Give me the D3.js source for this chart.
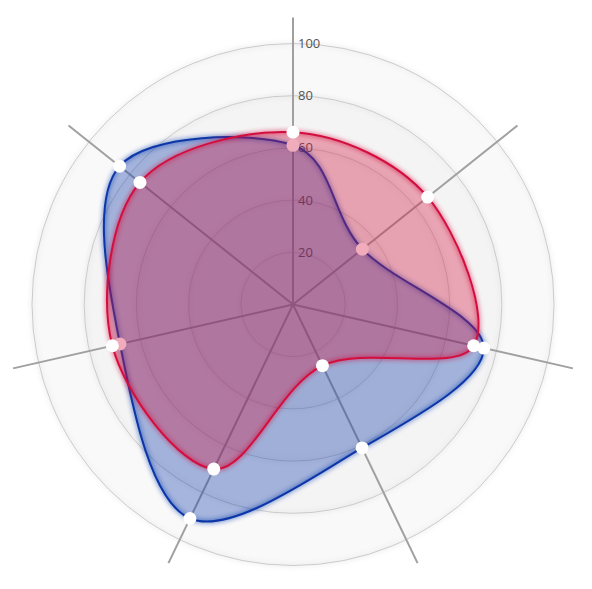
<!DOCTYPE html>
<html>
<head>
<meta charset="utf-8">
<script src="https://cdn.jsdelivr.net/npm/d3@7"></script>
<style>
  html, body { margin: 0; padding: 0; background: #fff; }
  svg { display: block; font-family: "Open Sans", "DejaVu Sans", sans-serif; }
</style>
</head>
<body>
<div class="container"></div>
<script>
// tick levels shown on the vertical axis
const levels = [20, 40, 60, 80, 100];
// seven axes, values
const seriesBlue = [61, 34, 75, 61, 91, 68, 85];
const seriesRed = [66, 66, 71, 26, 70, 71, 75];

const width = 592;
const height = 589;
const cx = 293;
const cy = 304.5;
const radius = 261;
const maxValue = 100;
const slice = (Math.PI * 2) / seriesBlue.length;

const svg = d3.select(".container")
    .append("svg")
    .attr("width", width)
    .attr("height", height);

// soft glow used by grid circles and blob outlines
const defs = svg.append("defs");
const glow = defs.append("filter").attr("id", "glow")
    .attr("x", "-20%").attr("y", "-20%").attr("width", "140%").attr("height", "140%");
glow.append("feGaussianBlur").attr("stdDeviation", 2.5).attr("result", "coloredBlur");
const merge = glow.append("feMerge");
merge.append("feMergeNode").attr("in", "coloredBlur");
merge.append("feMergeNode").attr("in", "SourceGraphic");

const g = svg.append("g").attr("transform", `translate(${cx}, ${cy})`);

const r = d3.scaleLinear().domain([0, maxValue]).range([0, radius]);

// grid circles, biggest first so the fills stack towards the centre
const grid = g.append("g").attr("class", "grid");
grid.selectAll("circle")
    .data(levels.slice().reverse())
    .enter()
    .append("circle")
    .attr("r", (d) => r(d))
    .attr("fill", "#CDCDCD")
    .attr("fill-opacity", 0.06)
    .attr("stroke", "#cbcbcb")
    .attr("stroke-width", 1)
    .style("filter", "url(#glow)");

// axis spokes
g.append("g")
    .selectAll("line")
    .data(seriesBlue.map((d, i) => i))
    .enter()
    .append("line")
    .attr("x1", 0)
    .attr("y1", 0)
    .attr("x2", (i) => r(maxValue * 1.1) * Math.sin(i * slice))
    .attr("y2", (i) => -r(maxValue * 1.1) * Math.cos(i * slice))
    .attr("stroke", "#a0a0a0")
    .attr("stroke-width", 2);

// level labels along the top spoke
g.append("g")
    .selectAll("text")
    .data(levels)
    .enter()
    .append("text")
    .attr("x", 5)
    .attr("y", (d) => -r(d))
    .attr("dy", "0.35em")
    .attr("font-size", "13px")
    .attr("fill", "#555")
    .text((d) => d);

const radarLine = d3.lineRadial()
    .curve(d3.curveCardinalClosed)
    .radius((d) => r(d))
    .angle((d, i) => i * slice);

const drawBlob = (values, color) => {
    const blob = g.append("g");
    blob.append("path")
        .attr("d", radarLine(values))
        .attr("fill", color)
        .attr("fill-opacity", 0.35);
    blob.append("path")
        .attr("d", radarLine(values))
        .attr("fill", "none")
        .attr("stroke", color)
        .attr("stroke-width", 2)
        .style("filter", "url(#glow)");
    blob.selectAll("circle")
        .data(values)
        .enter()
        .append("circle")
        .attr("r", 6.5)
        .attr("cx", (d, i) => r(d) * Math.sin(i * slice))
        .attr("cy", (d, i) => -r(d) * Math.cos(i * slice))
        .attr("fill", "#fff");
};

drawBlob(seriesBlue, "#0a36a8");
drawBlob(seriesRed, "#d3103c");
</script>
</body>
</html>
